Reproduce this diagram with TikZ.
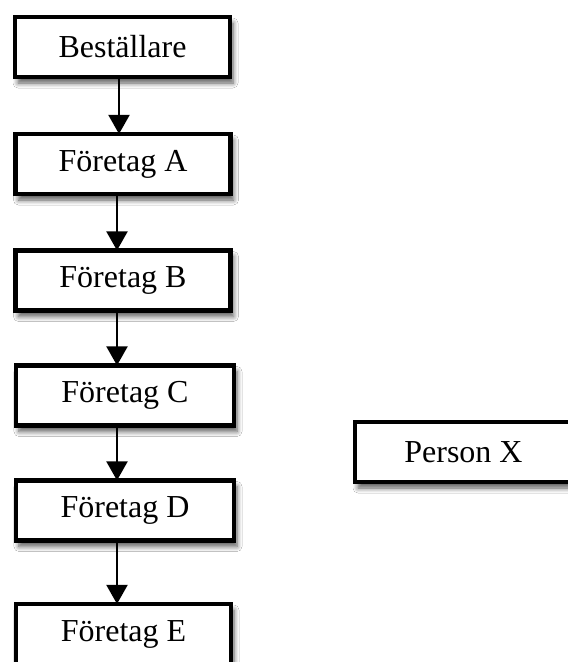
\documentclass[tikz,border=0pt]{standalone}
\usepackage{fontspec}
\setmainfont{Liberation Serif}
\usetikzlibrary{arrows.meta,shadows.blur}
\tikzset{
  boxnode/.style={draw=black, line width=4.2pt, fill=white, minimum width=215pt, minimum height=60pt,
    inner sep=0pt, font=\fontsize{32}{38}\selectfont,
    blur shadow={shadow xshift=3pt, shadow yshift=-6pt, shadow blur steps=6, shadow blur radius=5pt, shadow opacity=65}},
  flowarrow/.style={line width=2.2pt, -{Triangle[width=21pt,length=19pt]}}
}
\begin{document}
\begin{tikzpicture}[x=1pt,y=-1pt]
\useasboundingbox (0,0) rectangle (568,662);
\fill[white] (0,0) rectangle (568,662);
\node[boxnode] (b) at (122.5,47) {Beställare};
\node[boxnode] (fa) at (123,164) {Företag A};
\node[boxnode] (fb) at (123,280.5) {Företag B};
\node[boxnode, minimum width=218pt] (fc) at (125,395.5) {Företag C};
\node[boxnode, minimum width=218pt] (fd) at (125,510.5) {Företag D};
\node[boxnode] (fe) at (123.5,634) {Företag E};
\node[boxnode, minimum width=217pt] (px) at (463.5,452) {Person X};
\draw[flowarrow] ([xshift=-3.5pt]b.south) -- ([xshift=-3.5pt,yshift=-2pt]b.south |- fa.north);
\draw[flowarrow] ([xshift=-6pt]fa.south) -- ([xshift=-6pt,yshift=-2pt]fa.south |- fb.north);
\draw[flowarrow] ([xshift=-6pt]fb.south) -- ([xshift=-6pt,yshift=-2pt]fb.south |- fc.north);
\draw[flowarrow] ([xshift=-8pt]fc.south) -- ([xshift=-8pt,yshift=-2pt]fc.south |- fd.north);
\draw[flowarrow] ([xshift=-8pt]fd.south) -- ([xshift=-8pt,yshift=-2pt]fd.south |- fe.north);
\end{tikzpicture}
\end{document}
